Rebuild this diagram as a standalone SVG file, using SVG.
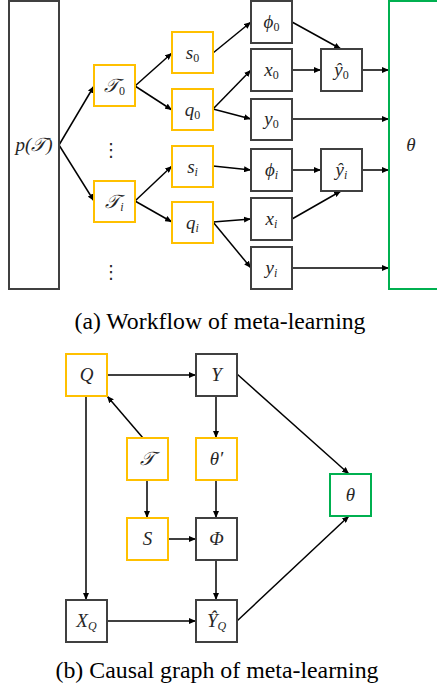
<svg xmlns="http://www.w3.org/2000/svg" width="437" height="687" viewBox="0 0 437 687">
<style>
.g{fill:#fff;stroke:#404040;stroke-width:2}
.y{fill:#fff;stroke:#FFC000;stroke-width:2}
.gr{fill:#fff;stroke:#00B050;stroke-width:2}
.lb{font-style:italic;font-size:19px;fill:#262626;text-anchor:middle}
.sb{font-size:12px}
.up{font-style:normal}
.cap{font-size:23.5px;fill:#000;text-anchor:middle}
.dots{font-size:18px;fill:#262626;text-anchor:middle}
#edges line{stroke:#000;stroke-width:1.5;marker-end:url(#ah)}
</style>
<defs>
<marker id="ah" markerUnits="userSpaceOnUse" markerWidth="7" markerHeight="6" refX="7" refY="3" orient="auto">
<path d="M0,0 L7,3 L0,6 z" fill="#000"/>
</marker>
</defs>
<g id="edges">
<line x1="59" y1="145" x2="94" y2="86"/>
<line x1="59" y1="145" x2="94" y2="201"/>
<line x1="135" y1="86" x2="172" y2="53"/>
<line x1="135" y1="86" x2="172" y2="110"/>
<line x1="135" y1="201" x2="172" y2="166"/>
<line x1="135" y1="201" x2="172" y2="222"/>
<line x1="213" y1="53" x2="251" y2="22"/>
<line x1="213" y1="109" x2="251" y2="70"/>
<line x1="213" y1="109" x2="251" y2="119"/>
<line x1="213" y1="166" x2="251" y2="170"/>
<line x1="213" y1="222" x2="251" y2="219"/>
<line x1="213" y1="222" x2="251" y2="268"/>
<line x1="292" y1="22" x2="341" y2="49"/>
<line x1="292" y1="70" x2="321" y2="70"/>
<line x1="292" y1="170" x2="321" y2="170"/>
<line x1="292" y1="219" x2="341" y2="191"/>
<line x1="362" y1="70" x2="389" y2="70"/>
<line x1="292" y1="119" x2="389" y2="119"/>
<line x1="362" y1="170" x2="389" y2="170"/>
<line x1="292" y1="268" x2="389" y2="268"/>
<line x1="107" y1="375" x2="196" y2="375"/>
<line x1="143" y1="438" x2="107" y2="396"/>
<line x1="216" y1="396" x2="216" y2="438"/>
<line x1="216" y1="480" x2="216" y2="518"/>
<line x1="147" y1="480" x2="147" y2="518"/>
<line x1="168" y1="539" x2="196" y2="539"/>
<line x1="216" y1="560" x2="216" y2="600"/>
<line x1="86" y1="396" x2="86" y2="600"/>
<line x1="107" y1="621" x2="196" y2="621"/>
<line x1="237" y1="374" x2="349" y2="474"/>
<line x1="237" y1="621" x2="349" y2="516"/>
</g>
<g id="nodes" font-family="Liberation Serif, serif">
<g id="pT"><rect class="g" x="9" y="1" width="50" height="288"/><text class="lb" x="34" y="151">p(𝒯)</text></g>
<g id="T0"><rect class="y" x="94" y="65" width="41" height="41"/><text class="lb" x="114.5" y="92">𝒯<tspan class="sb up" dy="3">0</tspan></text></g>
<g id="Ti"><rect class="y" x="94" y="181" width="41" height="41"/><text class="lb" x="114.5" y="208">𝒯<tspan class="sb" dy="3">i</tspan></text></g>
<g id="dots1"><text class="dots" font-family="DejaVu Sans, sans-serif" x="111" y="156">⋮</text></g>
<g id="dots2"><text class="dots" font-family="DejaVu Sans, sans-serif" x="111" y="278">⋮</text></g>
<g id="s0"><rect class="y" x="172" y="32" width="41" height="41"/><text class="lb" x="192.5" y="59">s<tspan class="sb up" dy="3">0</tspan></text></g>
<g id="q0"><rect class="y" x="172" y="89" width="41" height="41"/><text class="lb" x="192.5" y="116">q<tspan class="sb up" dy="3">0</tspan></text></g>
<g id="si"><rect class="y" x="172" y="146" width="41" height="41"/><text class="lb" x="192.5" y="173">s<tspan class="sb" dy="3">i</tspan></text></g>
<g id="qi"><rect class="y" x="172" y="202" width="41" height="41"/><text class="lb" x="192.5" y="229">q<tspan class="sb" dy="3">i</tspan></text></g>
<g id="phi0"><rect class="g" x="251" y="1" width="41" height="42"/><text class="lb" x="271.5" y="28">ϕ<tspan class="sb up" dy="3">0</tspan></text></g>
<g id="x0"><rect class="g" x="251" y="49" width="41" height="42"/><text class="lb" x="271.5" y="76">x<tspan class="sb up" dy="3">0</tspan></text></g>
<g id="y0"><rect class="g" x="251" y="99" width="41" height="41"/><text class="lb" x="271.5" y="125">y<tspan class="sb up" dy="3">0</tspan></text></g>
<g id="phii"><rect class="g" x="251" y="149" width="41" height="42"/><text class="lb" x="271.5" y="176">ϕ<tspan class="sb" dy="3">i</tspan></text></g>
<g id="xi"><rect class="g" x="251" y="198" width="41" height="42"/><text class="lb" x="271.5" y="225">x<tspan class="sb" dy="3">i</tspan></text></g>
<g id="yi"><rect class="g" x="251" y="247" width="41" height="42"/><text class="lb" x="271.5" y="274">y<tspan class="sb" dy="3">i</tspan></text></g>
<g id="yh0"><rect class="g" x="321" y="49" width="41" height="42"/><text class="lb" x="341.5" y="76">ŷ<tspan class="sb up" dy="3">0</tspan></text></g>
<g id="yhi"><rect class="g" x="321" y="149" width="41" height="42"/><text class="lb" x="341.5" y="176">ŷ<tspan class="sb" dy="3">i</tspan></text></g>
<g id="thetaBig"><rect class="gr" x="389" y="1" width="60" height="288"/><text class="lb" x="411" y="151">θ</text></g>
<text class="cap" x="220" y="329" textLength="291" lengthAdjust="spacingAndGlyphs">(a) Workflow of meta-learning</text>
<g id="Q"><rect class="y" x="66" y="354" width="41" height="42"/><text class="lb" x="86.5" y="381">Q</text></g>
<g id="Y"><rect class="g" x="196" y="354" width="41" height="42"/><text class="lb" x="216.5" y="381">Y</text></g>
<g id="T"><rect class="y" x="127" y="438" width="41" height="42"/><text class="lb" x="147.5" y="465">𝒯</text></g>
<g id="thetaP"><rect class="y" x="196" y="438" width="41" height="42"/><text class="lb" x="216.5" y="465">θ′</text></g>
<g id="S"><rect class="y" x="127" y="518" width="41" height="42"/><text class="lb" x="147.5" y="545">S</text></g>
<g id="Phi"><rect class="g" x="196" y="518" width="41" height="42"/><text class="lb" x="216.5" y="545">Φ</text></g>
<g id="theta"><rect class="gr" x="330" y="474" width="41" height="42"/><text class="lb" x="350.5" y="501">θ</text></g>
<g id="XQ"><rect class="g" x="66" y="600" width="41" height="42"/><text class="lb" x="86.5" y="627">X<tspan class="sb" dy="3">Q</tspan></text></g>
<g id="YhQ"><rect class="g" x="196" y="600" width="41" height="42"/><text class="lb" x="216.5" y="627">Ŷ<tspan class="sb" dy="3">Q</tspan></text></g>
<text class="cap" x="217" y="678" textLength="323" lengthAdjust="spacingAndGlyphs">(b) Causal graph of meta-learning</text>
</g>
</svg>
